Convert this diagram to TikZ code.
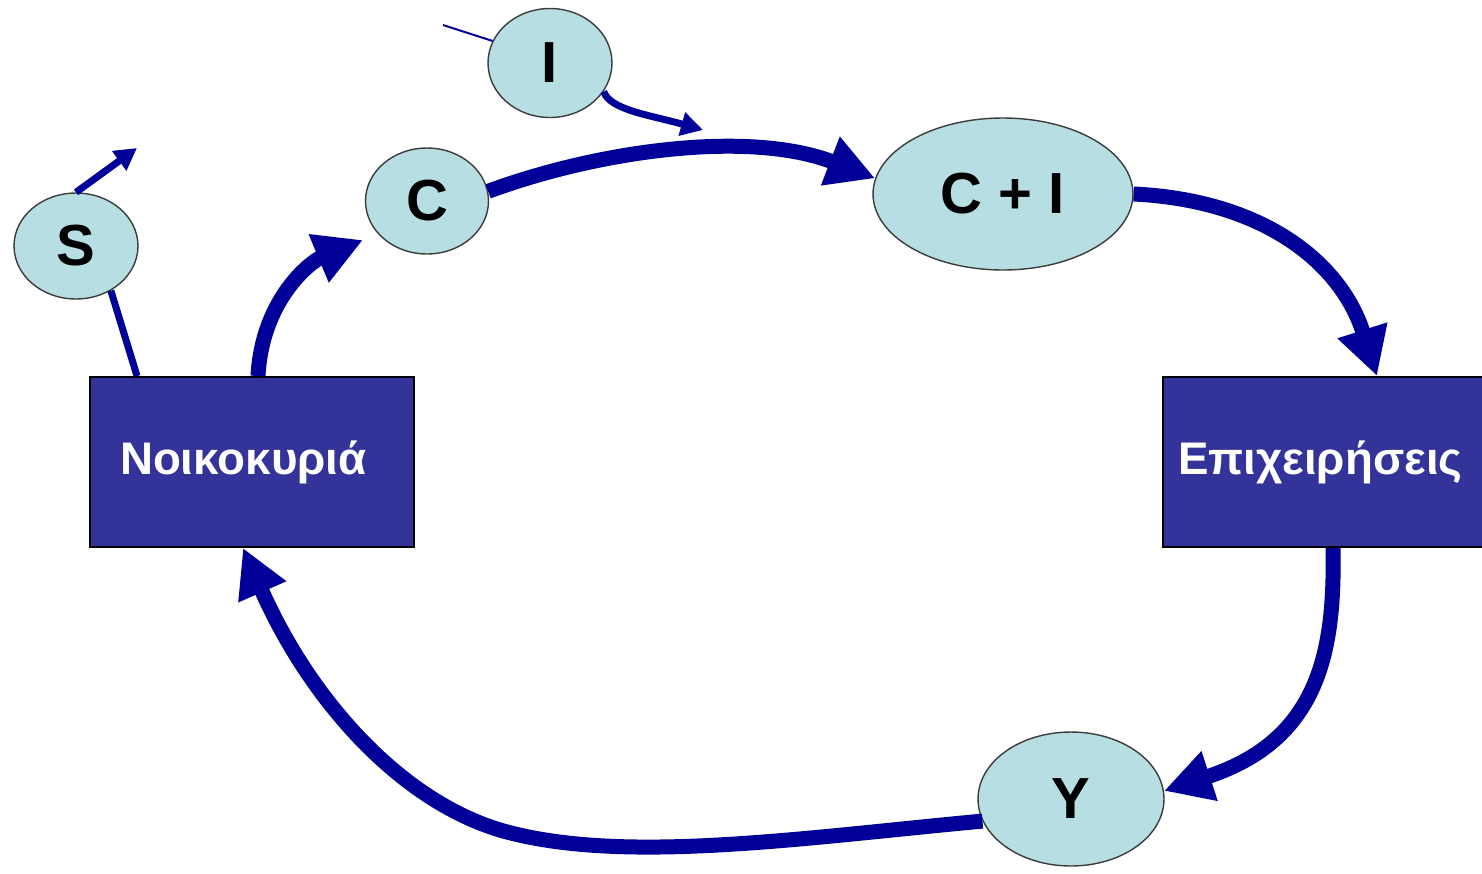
\documentclass[tikz,border=0pt]{standalone}
\usepackage{fontspec}
\setmainfont{Liberation Sans}
\usepackage{xcolor}
\usetikzlibrary{shapes.geometric, arrows.meta}

\definecolor{flowblue}{RGB}{0,0,153}
\definecolor{sectorblue}{RGB}{51,51,153}
\definecolor{bubblecyan}{RGB}{183,223,227}
\definecolor{bubbleline}{RGB}{60,60,60}

\begin{document}
\begin{tikzpicture}[x=0.02cm, y=-0.02cm,
  bubble/.style={ellipse, draw=bubbleline, line width=0.8pt, fill=bubblecyan,
    inner sep=0pt, font=\fontsize{33}{36}\selectfont\bfseries},
  sector/.style={rectangle, draw=black, line width=1.1pt, fill=sectorblue,
    text=white, inner sep=0pt, minimum height=3.4cm, align=left,
    font=\fontsize{26}{30}\selectfont\bfseries},
  bigflow/.style={flowblue, line width=0.3cm,
    -{Triangle[length=0.96cm, width=0.98cm]}},
  smallflow/.style={flowblue, line width=0.14cm,
    -{Triangle[length=0.44cm, width=0.46cm]}}]

\useasboundingbox (0, 0) rectangle (1482, 873);

%% Define the nodes
% H = households (box)
% F = firms (box)
% S, I, C, CI, Y = flows (bubbles)

\node [sector, minimum width=6.48cm, text width=5.28cm] (H) at (252, 462) {Νοικοκυριά};
\node [sector, minimum width=6.46cm, text width=5.86cm] (F) at (1324.5, 462) {Επιχειρήσεις};

\node [bubble, minimum width=2.48cm, minimum height=2.12cm] (S) at (76, 246) {S};
\node [bubble, minimum width=2.48cm, minimum height=2.18cm] (I) at (550, 63) {I};
\node [bubble, minimum width=2.46cm, minimum height=2.12cm] (C) at (427, 201) {C};
\node [bubble, minimum width=5.2cm, minimum height=3.04cm] (CI) at (1003, 194) {C + I};
\node [bubble, minimum width=3.72cm, minimum height=2.68cm] (Y) at (1071, 799) {Y};

% free ends
\coordinate (Send) at (137, 148);
\coordinate (Iend) at (703, 130);
\coordinate (Iin) at (443, 25);

%% Draw the circuit
\draw [bigflow] (C.9) .. controls (600, 150) and (750, 130) .. (CI.173);
\draw [bigflow] (CI.east) .. controls (1260, 200) and (1340, 260) .. ([xshift=1.05cm]F.north);
\draw [bigflow] ([xshift=0.17cm]F.south) .. controls (1335, 650) and (1320, 740) .. (Y.5);
\draw [bigflow] (Y.194) .. controls (800, 838) and (620, 865) .. (500, 830)
  .. controls (400, 800) and (310, 700) .. ([xshift=-0.18cm]H.south);
\draw [bigflow] ([xshift=0.12cm]H.north) .. controls (262, 300) and (310, 262) .. ([shift={(-64,39)}]C.center);

%% Saving and investment
\draw [smallflow] (I.-28) .. controls (610, 110) and (650, 115) .. (Iend);
\draw [smallflow] (S.north) -- (Send);
\draw [flowblue, line width=0.14cm] (S.-52) -- ([xshift=0.96cm]H.north west);
\draw [flowblue, line width=0.04cm] (Iin) -- (I.159);

\end{tikzpicture}
\end{document}
